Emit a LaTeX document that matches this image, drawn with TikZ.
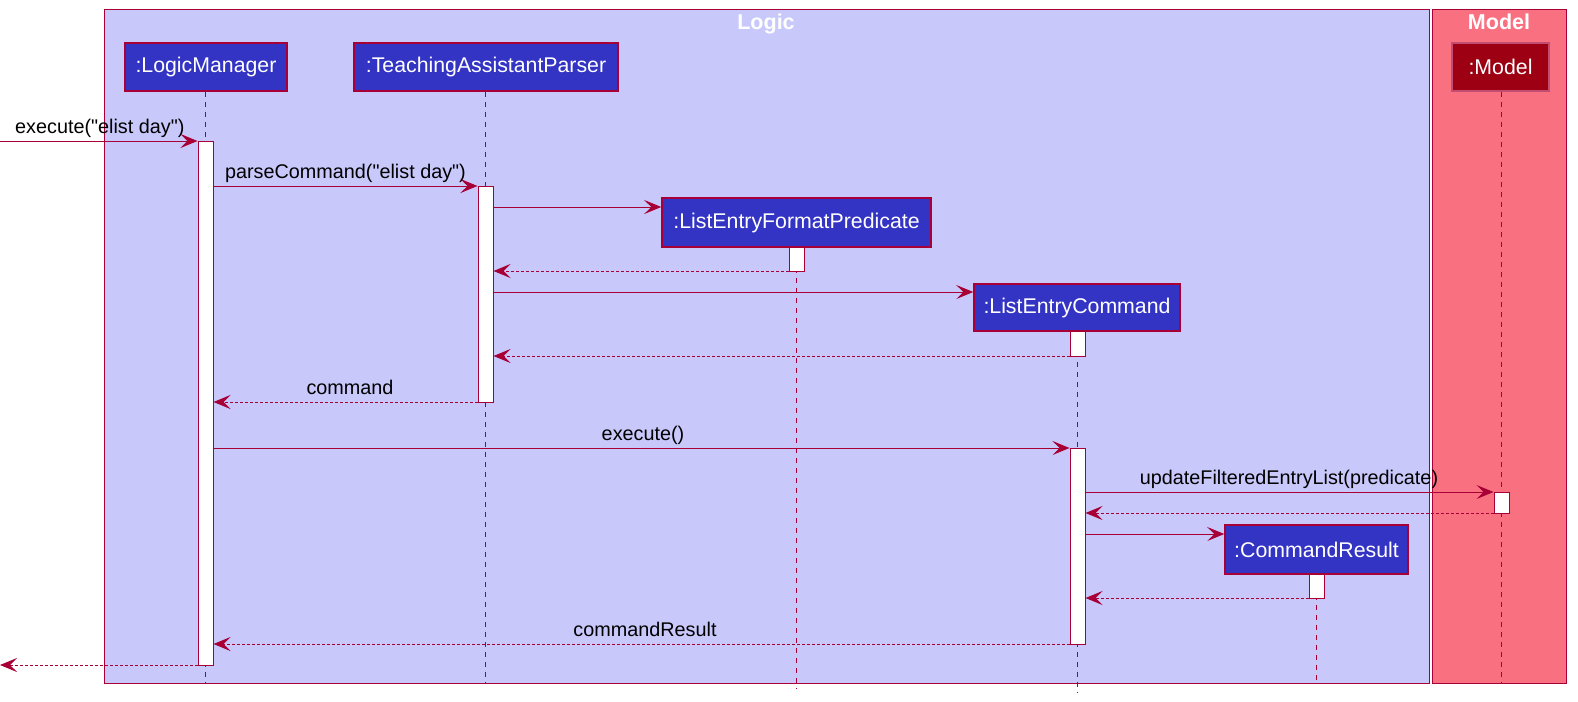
\documentclass[tikz,border=0pt]{standalone}
\usepackage{fontspec}
\setmainfont{Liberation Sans}[Ligatures=TeXOff]
\usetikzlibrary{arrows.meta}
\definecolor{bord}{HTML}{A80036}
\definecolor{logicfill}{HTML}{C8C8FA}
\definecolor{modelfill}{HTML}{F97181}
\definecolor{partfill}{HTML}{3333C4}
\definecolor{modelpart}{HTML}{9D0012}
\tikzset{
  frame/.style={draw=bord, line width=1pt},
  part/.style={draw=bord, line width=1.5pt, fill=partfill, text=white, inner sep=0pt,
    font=\fontsize{21.3}{24}\selectfont},
  mpart/.style={part, fill=modelpart, draw=bord!70!white},
  life/.style={draw=bord, line width=1pt, dash pattern=on 5pt off 5pt},
  act/.style={draw=bord, line width=1pt, fill=white, minimum width=15pt, inner sep=0pt},
  msg/.style={draw=bord, line width=1pt, -{Stealth[length=17pt,width=14pt,inset=7pt]}},
  ret/.style={msg, dash pattern=on 3pt off 2pt},
  lbl/.style={font=\fontsize{19.8}{22}\selectfont, text=black, inner sep=0pt, anchor=base},
  ttl/.style={font=\fontsize{21.5}{24}\selectfont\bfseries, text=white, inner sep=0pt, anchor=base}
}
\begin{document}
\begin{tikzpicture}[x=1pt,y=-1pt]
\useasboundingbox (0,0) rectangle (1578,701);
% frames
\path[frame, fill=logicfill] (104,9.5) rectangle (1429,683);
\path[frame, fill=modelfill] (1432,9.5) rectangle (1566,683);
\node[ttl] (tLogic) at (766,30) {Logic};
\node[ttl] (tModel) at (1499,30) {Model};
% participants
\node[part, minimum width=162pt, minimum height=48pt] (LM) at (206,67) {:LogicManager};
\node[part, minimum width=264pt, minimum height=48pt] (TAP) at (486,67) {:TeachingAssistantParser};
\node[mpart, minimum width=97pt, minimum height=48pt] (MOD) at (1500.5,67) {:Model};
\node[part, minimum width=269pt, minimum height=49pt] (LEFP) at (796.5,222.5) {:ListEntryFormatPredicate};
\node[part, minimum width=206pt, minimum height=47pt] (LEC) at (1077,307.5) {:ListEntryCommand};
\node[part, minimum width=183pt, minimum height=49pt] (CR) at (1316.5,549.5) {:CommandResult};
% lifeline ends
\coordinate (eLM) at (205.5,684);
\coordinate (eTAP) at (485.5,684);
\coordinate (eLEFP) at (796.5,688);
\coordinate (eLEC) at (1077.5,692);
\coordinate (eCR) at (1316.5,684);
\coordinate (eMOD) at (1501.5,684);
\draw[life] (LM.south -| eLM) -- (eLM);
\draw[life] (TAP.south -| eTAP) -- (eTAP);
\draw[life] (LEFP.south -| eLEFP) -- (eLEFP);
\draw[life] (LEC.south -| eLEC) -- (eLEC);
\draw[life] (CR.south -| eCR) -- (eCR);
\draw[life] (MOD.south -| eMOD) -- (eMOD);
% activations
\node[act, minimum height=524pt] (aLM) at (205.5,403) {};
\node[act, minimum height=216pt] (aTAP) at (485.5,294) {};
\node[act, minimum height=24pt] (aLEFP) at (796.5,259) {};
\node[act, minimum height=25pt] (aLEC1) at (1077.5,343.5) {};
\node[act, minimum height=196pt] (aLEC2) at (1077.5,546) {};
\node[act, minimum height=21pt] (aMOD) at (1501.5,502.5) {};
\node[act, minimum height=24pt] (aCR) at (1316.5,586) {};
% external ends
\coordinate (inStart) at (0,141);
\coordinate (outEnd) at (0,665);
% messages
\draw[msg] (inStart) -- (aLM.west |- inStart);
\node[lbl, anchor=base west] (l1) at (15,133) {execute("elist day")};
\draw[msg] (aLM.east |- 0,186) -- (aTAP.west |- 0,186);
\node[lbl] (l2) at (345.5,178) {parseCommand("elist day")};
\draw[msg] (aTAP.east |- 0,207) -- (LEFP.west |- 0,207);
\draw[ret] (aLEFP.west |- 0,271) -- (aTAP.east |- 0,271);
\draw[msg] (aTAP.east |- 0,292) -- (LEC.west |- 0,292);
\draw[ret] (aLEC1.west |- 0,356) -- (aTAP.east |- 0,356);
\draw[ret] (aTAP.west |- 0,402) -- (aLM.east |- 0,402);
\node[lbl] (l3) at (350,394) {command};
\draw[msg] (aLM.east |- 0,448) -- (aLEC2.west |- 0,448);
\node[lbl] (l4) at (643,440) {execute()};
\draw[msg] (aLEC2.east |- 0,492) -- (aMOD.west |- 0,492);
\node[lbl] (l5) at (1289,484) {updateFilteredEntryList(predicate)};
\draw[ret] (aMOD.west |- 0,513) -- (aLEC2.east |- 0,513);
\draw[msg] (aLEC2.east |- 0,534) -- (CR.west |- 0,534);
\draw[ret] (aCR.west |- 0,598) -- (aLEC2.east |- 0,598);
\draw[ret] (aLEC2.west |- 0,644) -- (aLM.east |- 0,644);
\node[lbl] (l6) at (645,636) {commandResult};
\draw[ret] (aLM.west |- outEnd) -- (outEnd);
\end{tikzpicture}
\end{document}
